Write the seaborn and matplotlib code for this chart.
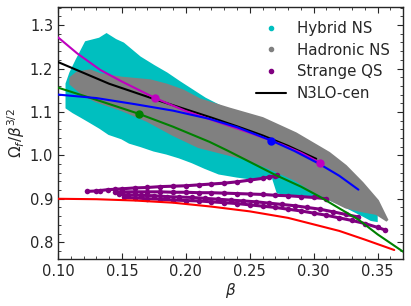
import numpy as np
import pandas as pd
import matplotlib
matplotlib.use("Agg")
import matplotlib.pyplot as plt
from matplotlib.lines import Line2D
import seaborn as sns

# ---------------- data ----------------
# Hybrid NS cloud envelope
hyb_up_beta = [0.107, 0.110, 0.1146, 0.122, 0.1326, 0.138, 0.145, 0.151, 0.164, 0.175, 0.185,
               0.195, 0.205, 0.215, 0.235, 0.25, 0.27, 0.29, 0.31, 0.33, 0.34, 0.345, 0.349]
hyb_up = [1.165, 1.19, 1.218, 1.26, 1.268, 1.278, 1.265, 1.257, 1.225, 1.205, 1.188,
          1.168, 1.149, 1.13, 1.10, 1.075, 1.045, 1.01, 0.975, 0.935, 0.91, 0.89, 0.87]
hyb_lo_beta = [0.107, 0.112, 0.118, 0.125, 0.133, 0.14, 0.15, 0.156, 0.165, 0.175, 0.185,
               0.195, 0.205, 0.215, 0.226, 0.24, 0.25, 0.26, 0.268, 0.272, 0.28, 0.29,
               0.30, 0.31, 0.32, 0.33, 0.34, 0.345, 0.349]
hyb_lo = [1.11, 1.10, 1.09, 1.078, 1.064, 1.05, 1.04, 1.03, 1.022, 1.012, 1.005,
          0.996, 0.985, 0.972, 0.959, 0.952, 0.948, 0.948, 0.952, 0.915, 0.912, 0.910,
          0.906, 0.902, 0.89, 0.875, 0.86, 0.852, 0.85]

# Hadronic NS cloud envelope
had_up_beta = [0.11, 0.115, 0.125, 0.133, 0.15, 0.172, 0.185, 0.1975, 0.211, 0.234, 0.26,
               0.286, 0.312, 0.325, 0.338, 0.35, 0.3575]
had_up = [1.178, 1.19, 1.195, 1.186, 1.178, 1.172, 1.162, 1.149, 1.128, 1.107, 1.085,
          1.05, 1.005, 0.975, 0.936, 0.895, 0.85]
had_lo_beta = [0.11, 0.12, 0.13, 0.15, 0.17, 0.19, 0.21, 0.23, 0.25, 0.27, 0.285,
               0.299, 0.312, 0.325, 0.338, 0.349, 0.3575]
had_lo = [1.165, 1.14, 1.125, 1.105, 1.08, 1.048, 1.02, 1.005, 0.99, 0.965, 0.945,
          0.92, 0.90, 0.881, 0.872, 0.866, 0.85]

# Strange QS sequences
sqs_a_beta = [0.1227, 0.130, 0.133, 0.139, 0.145, 0.15, 0.16, 0.17, 0.18, 0.19, 0.20,
              0.21, 0.22, 0.23, 0.24, 0.25, 0.26, 0.265, 0.27, 0.2716]
sqs_a = [0.917, 0.918, 0.919, 0.921, 0.922, 0.923, 0.925, 0.926, 0.928, 0.929, 0.930,
         0.932, 0.934, 0.936, 0.939, 0.943, 0.947, 0.950, 0.953, 0.955]
sqs_b_beta = [0.145, 0.15, 0.16, 0.17, 0.18, 0.19, 0.20, 0.21, 0.22, 0.23, 0.24, 0.25,
              0.26, 0.27, 0.28, 0.29, 0.30, 0.31]
sqs_b = [0.916, 0.916, 0.916, 0.916, 0.916, 0.915, 0.915, 0.914, 0.914, 0.913, 0.912, 0.911,
         0.910, 0.908, 0.907, 0.905, 0.903, 0.900]
sqs_c_beta = [0.148, 0.155, 0.165, 0.175, 0.185, 0.195, 0.205, 0.215, 0.225, 0.235, 0.245,
              0.255, 0.265, 0.275, 0.285, 0.295, 0.305, 0.315, 0.325, 0.335]
sqs_c = [0.910, 0.909, 0.908, 0.907, 0.905, 0.904, 0.903, 0.901, 0.899, 0.897, 0.895,
         0.893, 0.890, 0.887, 0.884, 0.880, 0.876, 0.870, 0.864, 0.858]
sqs_d_beta = [0.152, 0.16, 0.17, 0.18, 0.19, 0.20, 0.21, 0.22, 0.23, 0.24, 0.25, 0.26,
              0.27, 0.28, 0.29, 0.30, 0.31, 0.32, 0.33, 0.34, 0.35, 0.356]
sqs_d = [0.903, 0.902, 0.900, 0.899, 0.897, 0.896, 0.895, 0.893, 0.891, 0.889, 0.886, 0.883,
         0.880, 0.876, 0.872, 0.867, 0.862, 0.856, 0.850, 0.843, 0.834, 0.828]

# curves
red_beta = [0.10, 0.13, 0.16, 0.19, 0.22, 0.25, 0.28, 0.30, 0.32, 0.34, 0.363]
red_om = [0.900, 0.899, 0.896, 0.891, 0.882, 0.871, 0.856, 0.841, 0.826, 0.806, 0.782]
green_beta = [0.10, 0.13, 0.163, 0.19, 0.2186, 0.2326, 0.25, 0.27, 0.29, 0.304, 0.32, 0.335, 0.35, 0.37]
green_om = [1.156, 1.128, 1.096, 1.066, 1.031, 1.011, 0.985, 0.955, 0.928, 0.906, 0.878, 0.852, 0.818, 0.778]
black_beta = [0.10, 0.12, 0.14, 0.16, 0.18, 0.20, 0.22, 0.24, 0.26, 0.28, 0.302]
black_om = [1.215, 1.19, 1.165, 1.145, 1.125, 1.106, 1.087, 1.067, 1.046, 1.022, 0.992]
mag_beta = [0.10, 0.115, 0.133, 0.15, 0.176, 0.20, 0.225, 0.25, 0.275, 0.29, 0.305]
mag_om = [1.272, 1.235, 1.197, 1.17, 1.132, 1.102, 1.077, 1.052, 1.025, 1.006, 0.983]
blue_beta = [0.10, 0.13, 0.16, 0.19, 0.2186, 0.24, 0.267, 0.285, 0.304, 0.32, 0.335]
blue_om = [1.14, 1.132, 1.118, 1.103, 1.084, 1.065, 1.034, 1.01, 0.981, 0.953, 0.921]

# marker positions on curves
green_mk = ([0.163], [1.096])
mag_mk = ([0.176, 0.305], [1.132, 0.983])
blue_mk = ([0.267], [1.034])

legend_labels = ["Hybrid NS", "Hadronic NS", "Strange QS", "N3LO-cen"]

# ---------------- plotting ----------------
sns.set_theme(style="ticks")
plt.rcParams['font.family'] = ['DejaVu Sans']
plt.rcParams['mathtext.fontset'] = 'dejavusans'

fig = plt.figure(figsize=(4.11, 3.06), dpi=100)
ax = fig.add_axes([0.141, 0.1546, 0.840, 0.8215])

cyan = '#00BFBF'
gray = '#808080'
purple = '#800080'
magenta = '#BF00BF'
green = '#008000'
blue = '#0000FF'
red = '#FF0000'

# clouds
ax.fill(np.concatenate([hyb_up_beta, hyb_lo_beta[::-1]]),
        np.concatenate([hyb_up, hyb_lo[::-1]]),
        color=cyan, lw=2.0, ec=cyan, zorder=1)
ax.fill(np.concatenate([had_up_beta, had_lo_beta[::-1]]),
        np.concatenate([had_up, had_lo[::-1]]),
        color=gray, lw=2.0, ec=gray, zorder=2)

# strange QS sequences
for bx, oy in [(sqs_a_beta, sqs_a), (sqs_b_beta, sqs_b), (sqs_c_beta, sqs_c), (sqs_d_beta, sqs_d)]:
    df = pd.DataFrame({"beta": bx, "om": oy})
    sns.lineplot(data=df, x="beta", y="om", ax=ax, color=purple, lw=2.2,
                 sort=False, estimator=None, zorder=3)
    sns.scatterplot(data=df, x="beta", y="om", ax=ax, color=purple, s=16,
                    linewidth=0, zorder=3)

# curves
for bx, oy, col in [(red_beta, red_om, red), (green_beta, green_om, green),
                    (black_beta, black_om, 'black'), (mag_beta, mag_om, magenta),
                    (blue_beta, blue_om, blue)]:
    df = pd.DataFrame({"beta": bx, "om": oy})
    sns.lineplot(data=df, x="beta", y="om", ax=ax, color=col, lw=1.5,
                 sort=False, estimator=None, zorder=5)

for (bx, oy), col in [(green_mk, green), (mag_mk, magenta), (blue_mk, blue)]:
    ax.plot(bx, oy, 'o', color=col, ms=5, zorder=6)

ax.set_xlim(0.10, 0.37)
ax.set_ylim(0.762, 1.341)
ax.set_xticks([0.10, 0.15, 0.20, 0.25, 0.30, 0.35])
ax.set_yticks([0.8, 0.9, 1.0, 1.1, 1.2, 1.3])
ax.xaxis.set_minor_locator(matplotlib.ticker.MultipleLocator(0.01))
ax.yaxis.set_minor_locator(matplotlib.ticker.MultipleLocator(0.02))
ax.tick_params(which='both', direction='in', top=True, right=True, labelsize=10.5)
ax.tick_params(which='major', length=4, width=0.8)
ax.tick_params(which='minor', length=2, width=0.6)
for sp in ax.spines.values():
    sp.set_linewidth(1.0)

ax.set_xlabel(r"$\beta$", fontsize=11, labelpad=2)
ax.set_ylabel(r"$\Omega_f/\beta^{3/2}$", fontsize=11, labelpad=2)

handles = [Line2D([], [], ls='none', marker='o', ms=3, color=cyan),
           Line2D([], [], ls='none', marker='o', ms=3, color=gray),
           Line2D([], [], ls='none', marker='o', ms=3, color=purple),
           Line2D([], [], color='black', lw=1.5)]
ax.legend(handles, legend_labels, loc='upper right', frameon=False, fontsize=10.8,
          handlelength=2.0, handletextpad=0.7, labelspacing=0.45)

fig.savefig("out.png", dpi=100)
